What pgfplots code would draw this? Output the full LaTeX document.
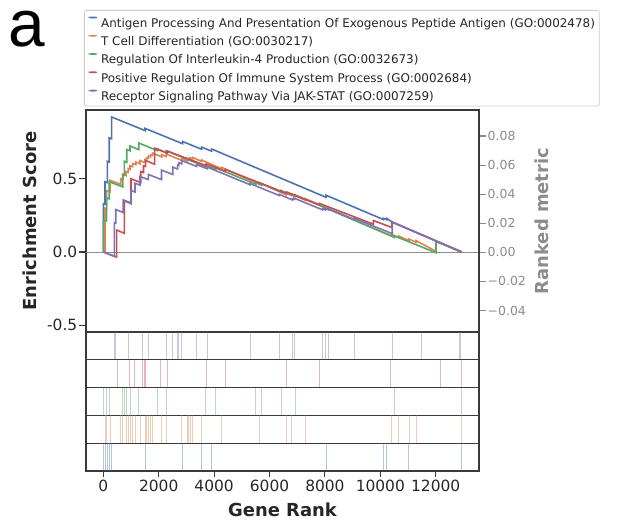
\documentclass[border=0pt]{standalone}
\usepackage{pgfplots}
\pgfplotsset{compat=1.18}
\usepackage{fontspec}
\setmainfont{DejaVu Sans}
\newfontfamily\arialfont{Liberation Sans}
\definecolor{cblue}{HTML}{4C72B0}
\definecolor{corange}{HTML}{DD8452}
\definecolor{cgreen}{HTML}{55A868}
\definecolor{cred}{HTML}{C44E52}
\definecolor{cpurple}{HTML}{8172B3}
\definecolor{axcol}{HTML}{3A3A3A}
\definecolor{txtcol}{HTML}{262626}
\definecolor{graycol}{HTML}{8C8C8C}
\definecolor{legcol}{HTML}{CCCCCC}
\pgfplotsset{
  rug/.style={
    at={(86bp,#1)}, anchor=south west, scale only axis,
    width=393bp, height=27.8bp,
    xmin=-625, xmax=13563, ymin=0, ymax=1,
    axis line style={draw=axcol, line width=1.1bp},
    xtick=\empty, ytick=\empty,
    scaled x ticks=false, scaled y ticks=false,
    clip=true,
  },
  rugline/.style={ycomb, no marks, line width=0.9bp, opacity=0.42, draw=#1},
}
\begin{document}
\begin{tikzpicture}
\useasboundingbox (0,0) rectangle (623bp,523bp);
\node[font=\arialfont\fontsize{66}{66}\selectfont, anchor=base west, inner sep=0pt, text=black] at (8bp,476.5bp) {a};
% main axis
\begin{axis}[
  at={(86bp,191bp)}, anchor=south west, scale only axis,
  width=393bp, height=222bp,
  xmin=-625, xmax=13563, ymin=-0.5468, ymax=0.9706,
  scaled x ticks=false, scaled y ticks=false,
  axis line style={draw=axcol, line width=1.1bp},
  xtick=\empty,
  ytick={-0.5,0,0.5}, yticklabels={-0.5,0.0,0.5},
  tick align=outside, major tick length=6.5bp,
  ytick pos=left,
  tick style={draw=axcol, line width=1.1bp},
  /pgf/number format/assume math mode=true,
  yticklabel style={font=\fontsize{15.5}{18}\selectfont, text=txtcol, inner xsep=2bp},
  ylabel={\bfseries Enrichment Score},
  ylabel style={at={(axis description cs:-0.1425,0.5)}, anchor=center, font=\fontsize{18}{20}\selectfont, text=txtcol},
  legend style={at={(axis description cs:-0.0051,1.4505)}, anchor=north west,
    draw=legcol, line width=0.8bp, rounded corners=2bp, fill=white,
    font=\fontsize{12}{14}\selectfont, text=txtcol,
    inner xsep=4.3bp, inner ysep=4bp, row sep=3.8bp, column sep=4bp,
    nodes={inner sep=0bp, text height=13bp, text depth=1.5bp}},
  legend cell align=left,
  legend image code/.code={\fill[#1, draw=none] (0bp,3.3bp) rectangle (8.4bp,5.1bp);},
  line join=miter,
]
\addplot[draw=graycol, line width=0.9bp, forget plot] coordinates {(-625,0) (13563,0)};
\addplot[cblue, line width=1.6bp] coordinates {
(0,0) (0,0.33) (60,0.326) (60,0.48) (145,0.474) (145,0.62) (215,0.615) (215,0.78) (300,0.774) (300,0.923)
(1505,0.83) (1505,0.845) (2865,0.74) (2865,0.755) (3550,0.702) (3550,0.717) (3910,0.689) (3910,0.704)
(8040,0.374) (8040,0.388) (10110,0.222) (10110,0.230) (10230,0.221) (10230,0.229) (10430,0.205) (12940,0)};
\addlegendentry{Antigen Processing And Presentation Of Exogenous Peptide Antigen (GO:0002478)}
\addplot[corange, line width=1.6bp] coordinates {
(0,0) (60,-0.004) (60,0.30) (120,0.296) (120,0.42) (240,0.412) (240,0.49) (630,0.462) (630,0.50) (700,0.495) (700,0.53)
(820,0.522) (820,0.55) (900,0.545) (900,0.57) (965,0.565) (965,0.59) (1060,0.583) (1060,0.605) (1170,0.597) (1170,0.615)
(1325,0.603) (1325,0.625) (1505,0.611) (1505,0.632) (1565,0.627) (1565,0.645) (1625,0.64) (1625,0.657) (1710,0.65) (1710,0.665)
(1780,0.66) (1780,0.675) (2110,0.65) (2110,0.665) (2265,0.653) (2265,0.67) (2830,0.626) (2830,0.638) (3030,0.622) (3030,0.632)
(3070,0.629) (3070,0.639) (3130,0.634) (3130,0.644) (3230,0.636) (3230,0.646) (3550,0.619) (3550,0.629) (4275,0.568) (4275,0.578)
(5630,0.464) (5630,0.474) (6595,0.392) (6595,0.402) (6800,0.385) (6800,0.395) (7280,0.355) (7280,0.365) (10410,0.11) (10410,0.12)
(10650,0.10) (10650,0.11) (11035,0.078) (11035,0.088) (11290,0.067) (11290,0.077) (12010,0.005) (12010,0.072) (12940,0)};
\addlegendentry{T Cell Differentiation (GO:0030217)}
\addplot[cgreen, line width=1.6bp] coordinates {
(0,0) (0,0.22) (120,0.212) (120,0.37) (215,0.363) (215,0.48) (700,0.445) (700,0.53) (760,0.525) (760,0.62) (845,0.613) (845,0.70)
(965,0.692) (965,0.725) (1280,0.70) (1280,0.745) (1950,0.693) (1950,0.705) (2265,0.68) (2265,0.692) (3670,0.585) (3670,0.595)
(4060,0.565) (4060,0.575) (5510,0.463) (5510,0.473) (5720,0.456) (5720,0.466) (6415,0.41) (6415,0.42) (6920,0.38) (6920,0.39)
(10505,0.10) (10505,0.11) (12010,-0.005) (12010,0.072) (12940,0)};
\addlegendentry{Regulation Of Interleukin-4 Production (GO:0032673)}
\addplot[cred, line width=1.6bp] coordinates {
(0,0) (480,-0.035) (480,0.15) (760,0.128) (760,0.35) (1000,0.33) (1000,0.50) (1350,0.475) (1350,0.55) (1450,0.543) (1450,0.59)
(1530,0.585) (1530,0.625) (1850,0.60) (1850,0.71) (2310,0.675) (2310,0.69) (3710,0.59) (3710,0.603) (4395,0.553) (4395,0.565)
(6620,0.40) (6620,0.41) (7800,0.322) (7800,0.332) (9750,0.19) (9750,0.215) (10410,0.168) (10410,0.205) (12940,0)};
\addlegendentry{Positive Regulation Of Immune System Process (GO:0002684)}
\addplot[cpurple, line width=1.6bp] coordinates {
(0,0) (400,-0.03) (400,0.20) (450,0.197) (450,0.29) (720,0.27) (720,0.356) (1000,0.335) (1000,0.42) (1145,0.41) (1145,0.47)
(1325,0.457) (1325,0.516) (1625,0.495) (1625,0.53) (2100,0.495) (2100,0.56) (2505,0.53) (2505,0.58) (2685,0.567) (2685,0.595)
(2730,0.592) (2730,0.61) (2830,0.603) (2830,0.625) (3370,0.585) (3370,0.597) (3755,0.569) (3755,0.58) (5295,0.46) (5295,0.468)
(6355,0.386) (6355,0.394) (6825,0.356) (6825,0.364) (6885,0.36) (6885,0.368) (7920,0.288) (7920,0.296) (8005,0.289) (8005,0.297)
(8120,0.288) (8120,0.296) (9050,0.223) (9050,0.231) (10430,0.125) (10430,0.205) (12940,0)};
\addlegendentry{Receptor Signaling Pathway Via JAK-STAT (GO:0007259)}
\end{axis}
% right axis
\begin{axis}[
  at={(86bp,191bp)}, anchor=south west, scale only axis,
  width=393bp, height=222bp,
  xmin=-625, xmax=13563, ymin=-0.0548, ymax=0.0979,
  scaled x ticks=false, scaled y ticks=false,
  axis x line=none, axis y line*=right,
  axis line style={draw=axcol, line width=1.1bp},
  ytick={-0.04,-0.02,0,0.02,0.04,0.06,0.08},
  yticklabels={−0.04,−0.02,0.00,0.02,0.04,0.06,0.08},
  tick align=outside, major tick length=6.5bp,
  tick style={draw=graycol, line width=1.1bp},
  /pgf/number format/assume math mode=true,
  yticklabel style={font=\fontsize{12.5}{15}\selectfont, text=graycol, inner xsep=2bp},
  ylabel={\bfseries Ranked metric},
  ylabel style={at={(axis description cs:1.1595,0.5)}, anchor=center, font=\fontsize{18}{20}\selectfont, text=graycol},
]
\addplot[draw=none] coordinates {(0,0)};
\end{axis}
% rug panels: purple, red, green, orange, blue
\begin{axis}[rug=163.2bp]
\addplot[rugline=cpurple] coordinates {(400,1) (450,1) (900,1) (1400,1) (1420,1) (1625,1) (2290,1) (2505,1) (2685,1) (2730,1) (2830,1) (3370,1) (3755,1) (5295,1) (6355,1) (6825,1) (6885,1) (7920,1) (8005,1) (8120,1) (9050,1) (10430,1) (11490,1) (12840,1) (12900,1)};
\end{axis}
\begin{axis}[rug=135.4bp]
\addplot[rugline=cred] coordinates {(505,1) (930,1) (1110,1) (1410,1) (1470,1) (1530,1) (2045,1) (2310,1) (3710,1) (4395,1) (6620,1) (7800,1) (10350,1) (12155,1) (12915,1)};
\end{axis}
\begin{axis}[rug=107.6bp]
\addplot[rugline=cgreen] coordinates {(0,1) (120,1) (215,1) (700,1) (760,1) (845,1) (965,1) (1280,1) (1950,1) (2265,1) (3670,1) (4060,1) (5510,1) (5720,1) (6415,1) (6920,1) (10505,1) (12940,1)};
\end{axis}
\begin{axis}[rug=79.8bp]
\addplot[rugline=corange] coordinates {(60,1) (120,1) (240,1) (630,1) (700,1) (820,1) (900,1) (965,1) (1060,1) (1170,1) (1325,1) (1505,1) (1565,1) (1625,1) (1710,1) (1780,1) (2110,1) (2265,1) (2830,1) (3030,1) (3070,1) (3130,1) (3230,1) (3550,1) (4275,1) (5630,1) (6595,1) (6800,1) (7280,1) (10410,1) (10650,1) (11035,1) (11290,1) (12940,1)};
\end{axis}
\begin{axis}[rug=52bp,
  xtick={0,2000,4000,6000,8000,10000,12000},
  xticklabels={0,2000,4000,6000,8000,10000,12000},
  xtick pos=lower, tick align=outside, major tick length=5.5bp,
  tick style={draw=axcol, line width=1.1bp},
  /pgf/number format/assume math mode=true,
  xticklabel style={font=\fontsize{15.5}{18}\selectfont, text=txtcol},
  xlabel={\bfseries Gene Rank},
  xlabel style={at={(axis description cs:0.5,-1.40)}, anchor=center, font=\fontsize{18}{20}\selectfont, text=txtcol},
]
\addplot[rugline=cblue] coordinates {(0,1) (60,1) (145,1) (215,1) (300,1) (1505,1) (2865,1) (3550,1) (3910,1) (8040,1) (10110,1) (10230,1) (11010,1) (12940,1)};
\end{axis}
\end{tikzpicture}
\end{document}
